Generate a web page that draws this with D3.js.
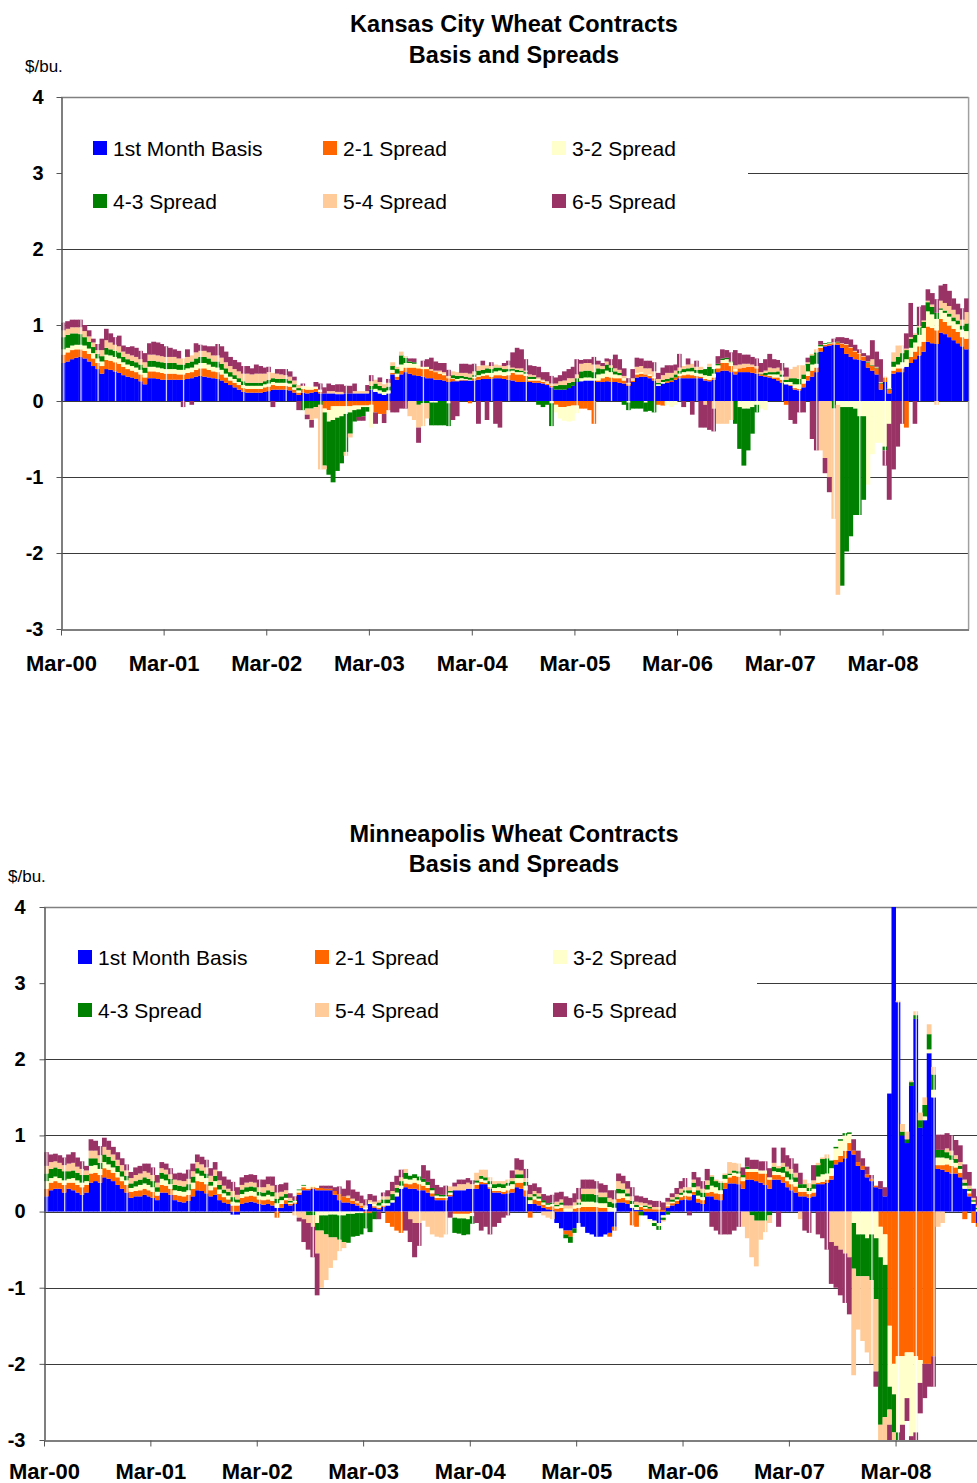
<!DOCTYPE html>
<html>
<head>
<meta charset="utf-8">
<script src="https://cdn.jsdelivr.net/npm/d3@7"></script>
<style>
body { margin: 0; background: #fff; }
svg { display: block; font-family: "Liberation Sans", Arial, sans-serif; }
</style>
</head>
<body>
<svg id="chart" width="977" height="1483"></svg>
<script>
// half-monthly values, Mar-00 .. Dec-08 (24 per year, 20 in the last)
var kcBasis = [
 .50,.52,.55,.57,.58,.56,.52,.46,.42,.36,.42,.41,.39,.37,.34,.32,.31,.29,.26,.22,.30,.30,.29,.28,
 .28,.28,.28,.28,.28,.29,.30,.32,.33,.32,.31,.30,.29,.27,.24,.21,.18,.15,.12,.11,.11,.11,.11,.12,
 .13,.15,.15,.15,.15,.14,.11,.08,.11,.10,.11,.12,.10,.10,.10,.10,.09,.09,.10,.10,.10,.10,.10,.10,
 .15,.12,.10,.08,.10,.35,.28,.35,.38,.36,.34,.33,.32,.30,.30,.28,.28,.27,.25,.26,.26,.27,.27,.27,
 .27,.28,.29,.29,.29,.30,.30,.29,.28,.27,.25,.25,.25,.25,.24,.24,.23,.21,.18,.15,.15,.15,.17,.20,
 .25,.26,.27,.27,.27,.25,.25,.26,.25,.25,.24,.23,.20,.25,.31,.32,.32,.30,.27,.20,.23,.24,.25,.28,
 .30,.30,.30,.30,.30,.30,.27,.26,.28,.38,.40,.40,.38,.35,.38,.38,.38,.37,.36,.33,.32,.31,.29,.27,
 .24,.22,.20,.15,.14,.18,.27,.32,.38,.65,.72,.73,.74,.74,.70,.62,.58,.55,.54,.53,.44,.40,.35,.15,
 .25,.10,.36,.38,.38,.45,.50,.55,.60,.65,.78,.76,.75,.90,.88,.84,.80,.76,.72,.68];
var kcSpread21 = [
 .11,.12,.12,.11,.10,.10,.10,.10,.08,.10,.12,.12,.12,.12,.11,.10,.09,.09,.09,.09,.09,.09,.09,.09,
 .08,.08,.08,.07,.07,.08,.08,.09,.10,.11,.10,.09,.09,.08,.07,.06,.06,.06,.05,.05,.05,.05,.05,.06,
 .06,.06,.05,.05,.05,.05,.04,.03,.05,.05,.04,.04,.02,-.10,-.12,-.07,-.07,-.07,-.07,-.07,-.06,-.06,-.06,-.06,
 -.05,-.15,-.17,-.17,-.12,.02,.04,.05,.06,.08,.10,.10,.10,.12,.10,.10,.08,.07,.05,.03,.01,.01,.01,-.03,
 .03,.04,.04,.05,.03,.04,.04,.04,.06,.10,.10,.10,.08,.02,.03,.03,.02,.02,.02,-.05,-.08,-.08,-.07,-.06,
 -.06,-.10,-.10,-.12,-.30,.02,.05,.06,.06,.05,.06,.04,.02,.02,.04,.04,.03,.03,.03,-.05,-.06,.02,.02,.03,
 .03,.04,.05,.04,.03,.02,.02,.02,.03,.05,.10,.10,.08,.04,.05,.06,.07,.08,.07,.02,.02,.02,.02,.04,
 .04,-.05,.01,.02,.02,.05,.06,.08,.06,.05,.02,.02,.02,.03,.05,.12,.12,.10,.08,.05,.06,.06,.08,.08,
 .06,.05,.04,.05,.05,-.35,.08,.10,.12,.13,.20,.20,.18,.18,.16,.15,.15,.15,.12,.14];
var kcSpread32 = [
 .07,.06,.06,.06,.06,.07,.07,.07,.06,.06,.07,.07,.07,.07,.06,.06,.06,.06,.06,.06,.06,.06,.06,.06,
 .06,.06,.06,.06,.06,.06,.06,.07,.07,.07,.07,.06,.06,.06,.05,.05,.05,.04,.04,.04,.04,.04,.04,.04,
 .04,.04,.04,.04,.04,.04,.03,.03,.04,.04,.03,.03,.03,-.05,-.15,-.18,-.15,-.13,-.10,-.08,-.06,-.05,-.02,-.02,
 -.30,.04,.04,.04,.04,.04,.04,.08,.06,.06,.05,.04,.03,.03,-.02,-.02,.02,.02,-.03,.01,.02,.02,.01,.01,
 .02,.02,.03,.03,.05,.05,.06,.05,.05,.03,.03,.03,.03,.02,.02,.02,.01,.01,-.03,-.10,-.15,-.18,-.20,-.20,
 -.10,.04,.04,.04,.03,.08,.06,.08,.07,.05,.04,.03,-.02,.01,.02,.02,-.02,.02,.02,.02,.02,-.05,-.08,-.05,
 .03,.04,.04,.05,.04,.04,.05,.05,.05,.04,.04,.05,.05,.03,-.08,-.10,-.10,-.08,-.05,-.10,-.12,.02,.04,.04,
 .04,.03,.04,.05,.06,.06,.06,.08,.05,.02,.01,.01,.01,-.05,-.08,-.08,-.08,-.10,-.20,-.20,-1.10,-.70,-.55,-.55,
 -.60,-.30,.05,.05,.08,.10,.12,.12,.15,.18,.20,.18,.15,.12,.12,.12,.10,.10,.10,.10];
var kcSpread43 = [
 .16,.17,.16,.15,.14,.11,.09,.08,.06,.07,.09,.08,.08,.08,.07,.07,.07,.07,.07,.07,.08,.08,.08,.08,
 .08,.08,.08,.07,.07,.07,.08,.08,.08,.08,.08,.07,.08,.08,.07,.06,.05,.05,.05,.04,.04,.04,.04,.04,
 .05,.05,.05,.05,.05,.04,.04,.03,-.12,-.10,-.10,-.08,-.05,-.70,-.70,-.82,-.70,-.62,-.50,-.28,-.15,-.10,-.12,-.06,
 .05,.07,.06,.05,.05,.05,.06,.12,.07,.02,.02,-.05,-.03,-.03,-.30,-.30,-.32,-.32,-.30,.04,.04,.03,.03,.03,
 .02,.06,.05,.06,.05,.05,.04,.04,.03,.02,.03,.02,.02,.03,.03,-.05,-.08,-.05,-.30,.05,.06,.06,.07,.05,
 .05,.09,.09,.09,.08,.08,.06,.08,.06,.04,.03,-.05,-.10,-.10,-.10,-.10,-.12,-.13,-.15,.02,.03,.03,.04,.04,
 .04,.04,.04,.05,.04,.05,.08,.12,.06,.02,.02,.02,.01,-.30,-.55,-.75,-.55,-.35,-.10,.01,.03,.03,.03,.04,
 .03,.03,.05,.08,.07,.06,.10,.12,.15,.02,.01,.01,-.10,.01,-2.35,-1.90,-1.70,-1.40,-1.30,-1.10,.01,.01,.01,.01,
 -.05,.01,.07,.10,.12,.12,.12,.10,.10,.08,.12,.10,.08,.02,.03,.04,.05,.05,.05,.10];
var kcSpread54 = [
 .09,.08,.08,.08,.09,.08,.07,.06,.05,.08,.10,.09,.08,.08,.07,.07,.07,.07,.07,.07,.08,.08,.08,.08,
 .08,.08,.08,.08,.08,.08,.08,.08,.08,.08,.08,.08,.08,.08,.08,.08,.08,.09,.10,.12,.11,.12,.12,.10,
 .10,.07,.07,.06,.05,.05,.05,.04,.00,-.08,-.15,-.15,-.85,-.05,.03,.03,.03,.03,-.05,-.05,.03,.03,.03,.03,
 .06,.05,.05,.05,.05,.05,.03,.05,.02,-.20,-.25,-.30,-.30,-.20,.02,.02,.02,.02,.03,.05,.05,.04,.05,.05,
 .05,.06,.06,.04,.04,.04,.03,.04,.05,.02,.02,.03,.02,.03,.02,.02,.02,.02,.03,.03,.05,.06,.06,.05,
 .05,.10,.10,.10,.10,.05,.04,.04,.03,.04,.04,.03,.02,.02,.08,.08,.08,.08,.07,.05,.06,.08,.06,.05,
 .04,.04,.05,.05,.04,.04,-.05,.04,-.10,-.30,-.30,-.30,-.25,.05,.05,.05,.04,.03,.03,.02,.03,.06,.05,.05,
 .05,.04,.12,.15,.18,.12,.02,.02,.04,-.65,-.75,-1.00,-1.45,-2.50,.01,.01,.01,.01,.01,.01,.01,.08,.01,.01,
 .01,.01,.12,.15,.10,.02,.02,.02,.02,.02,.02,.03,-.05,.10,.10,.10,.10,.08,.08,.15];
var kcSpread65 = [
 .10,.10,.10,.10,.10,.08,.08,.05,.08,.15,.15,.12,.10,.14,.08,.09,.12,.12,.11,.12,.15,.17,.17,.16,
 .14,.12,.10,.10,-.08,.10,-.05,.12,.08,.07,.08,.12,.15,.15,.14,.12,.12,.12,.10,.10,.08,.12,.10,.08,
 .07,-.08,.06,.07,.08,.07,.05,-.12,.03,-.06,-.10,.06,.08,.08,.10,.08,.10,.10,.10,.10,.10,-.05,-.06,.08,
 .08,-.15,.06,-.12,.05,-.15,-.15,-.10,-.10,.04,.05,-.20,.08,.10,.15,.12,.10,.12,.08,-.25,-.20,.12,.12,.12,
 .10,-.30,.06,-.25,.05,-.30,-.35,.04,.06,.20,.27,.25,.15,.12,.12,.14,.10,.12,.10,.08,.08,.12,.12,.15,
 .20,.05,.05,.05,.10,.05,.04,.04,.08,.18,.14,.10,.06,.12,.12,.10,.10,.10,.12,.08,.10,.10,.10,.08,
 .18,-.08,.08,-.18,.08,-.35,-.30,-.38,-.30,.10,.12,.10,.12,.20,.15,.12,.12,.10,.10,.12,.15,.18,.12,.10,
 .10,.12,-.25,-.30,-.15,-.15,.06,-.50,-.65,.05,-.20,-.20,.05,.06,.08,.08,.10,.08,.05,.04,.08,.25,.20,.30,
 -.20,-1.00,-.90,-.60,-.30,.20,.45,-.30,.25,.20,.15,.15,.18,.20,.25,.20,.15,.14,.15,.18];

var mpBasis = [
 .20,.28,.30,.30,.25,.30,.28,.25,.22,.25,.38,.40,.38,.45,.43,.40,.35,.30,.25,.18,.20,.20,.22,.20,
 .18,.15,.25,.25,.22,.15,.13,.12,.14,.20,.28,.27,.24,.20,.22,.15,.12,.10,-.04,-.04,.10,.12,.13,.12,
 .10,.09,.10,.08,.05,.05,.10,.08,.10,.22,.28,.28,.30,.28,.28,.28,.28,.22,.15,.12,.12,.10,.08,.05,
 .03,.10,.05,.03,.06,.08,.12,.20,.30,.32,.30,.30,.28,.28,.25,.20,.15,.15,.15,.20,.28,.28,.28,.30,
 .30,.30,.36,.36,.30,.25,.25,.23,.24,.25,.32,.30,.20,.10,.10,.08,.05,.03,.02,-.15,-.22,-.25,-.25,-.22,
 -.15,-.20,-.28,-.30,-.33,-.33,-.30,-.28,-.20,.12,.12,.10,.05,.02,.02,-.05,-.10,-.12,-.15,-.05,.05,.08,.10,.15,
 .16,.15,.22,.12,.10,.20,.20,.16,.15,.30,.37,.37,.36,.30,.42,.42,.40,.38,.35,.30,.42,.42,.38,.32,
 .28,.25,.20,.20,.18,.20,.36,.36,.38,.42,.62,.65,.70,.80,.75,.60,.55,.45,.40,.32,.30,.20,1.55,4.05,
 2.75,1.00,.90,1.65,2.53,1.10,1.20,2.08,1.50,.56,.55,.52,.50,.50,.45,.30,.20,.10,-.15,-.20];
var mpSpread21 = [
 .10,.10,.10,.08,.10,.08,.10,.10,.10,.10,.12,.11,.10,.12,.12,.11,.10,.10,.10,.08,.07,.08,.08,.08,
 .08,.06,.10,.09,.08,.07,.08,.08,.08,.10,.12,.12,.12,.08,.10,.08,.07,.06,.08,.08,.08,.08,.08,.08,
 .06,.06,.06,.06,-.08,.05,.05,.02,.02,.03,.04,.02,.02,.03,.03,.02,.02,.05,.08,.08,.06,.04,.03,.03,
 -.02,-.02,.02,.02,.02,-.15,-.20,-.25,-.28,.05,.06,.08,.08,.06,.06,.04,.03,.03,.03,.02,-.03,-.03,-.03,-.03,
 -.02,.05,.03,.02,.02,.02,.02,.03,.04,.05,.06,.08,.08,-.08,.06,.06,.04,.03,.05,.04,.05,-.05,-.08,.04,
 .05,.06,.06,.06,.06,.05,.05,-.05,-.05,.05,.06,.05,-.18,-.20,.04,.04,.04,.03,.03,.02,.02,.03,.04,.04,
 .05,.05,.04,.05,.05,.05,.06,.08,.08,.08,.08,.10,.10,.10,.10,.10,.12,.12,.15,.12,.06,.06,.08,.08,
 .08,.08,.06,.06,.05,.05,.02,.03,.04,.05,.06,.08,.10,.10,.05,.05,.05,.04,.03,.02,-.20,-.30,-1.50,-2.00,
 -1.90,-1.90,-1.85,-1.85,-1.90,-1.95,-2.00,-2.00,-1.90,.05,.06,.10,.10,.08,.06,-.10,.04,-.15,-.05,.02];
var mpSpread32 = [
 .10,.06,.06,.06,.06,.05,.06,.06,.06,.05,.10,.10,.08,.08,.07,.07,.07,.06,.06,.05,.06,.07,.07,.07,
 .06,.05,.08,.07,.06,.06,.06,.06,.06,.08,.10,.08,.08,.06,.08,.06,.05,.05,.05,.04,.05,.06,.06,.06,
 .05,.05,.06,.06,.06,.05,.03,.02,.02,.03,.02,.02,.02,-.15,-.05,-.05,-.04,-.04,-.05,-.05,-.03,-.03,-.02,-.02,
 .02,.02,.03,.03,.03,.03,.03,.05,.04,.06,.06,.06,.05,.05,.04,.04,.03,.02,.02,.03,-.05,-.06,-.06,-.07,
 -.04,.03,.04,.03,.04,.04,.05,.05,.06,.06,.06,.06,.06,.05,.04,.03,.03,.03,.03,.03,.04,.04,.04,.04,
 .04,.07,.07,.07,.06,.06,.06,.06,.05,.07,.06,.05,.05,.04,.02,.02,-.03,-.03,-.04,-.03,.02,.02,.02,.03,
 .04,.04,.06,.04,.04,.04,.08,.08,.05,.05,.03,.04,.04,.05,.04,.04,.04,.04,.04,.03,.05,.04,.05,.05,
 .06,.06,.05,.05,.04,.05,.08,.10,.08,.10,.15,.20,.20,.12,-.15,-.30,-.30,-.35,-.30,-.35,-.40,-.40,-.80,-.40,
 -1.00,-.90,-.60,-1.10,-1.00,-.30,.05,.05,.10,.10,.10,.08,.08,.06,.05,.04,.03,.03,.03,.02];
var mpSpread43 = [
 .10,.12,.12,.12,.12,.10,.10,.10,.10,.08,.10,.09,.08,.10,.10,.09,.08,.07,.06,.06,.07,.07,.08,.08,
 .08,.06,.08,.08,.07,.07,.07,.07,.08,.08,.07,.07,.06,.05,.07,.06,.05,.05,.06,.04,.06,.06,.06,.06,
 .05,.05,.06,.06,.06,.05,.05,.02,.01,.01,.01,-.05,-.05,-.10,-.20,-.25,-.30,-.30,-.32,-.35,-.38,-.30,-.30,-.28,
 -.20,-.25,-.10,.04,.05,.05,.08,.06,.06,.08,.05,.05,.05,.04,.04,.03,.02,.02,.02,.02,-.20,-.20,-.22,-.20,
 -.10,.03,.04,.04,.04,.05,.05,.05,.04,.04,.05,.05,.05,.04,.03,.03,.03,.02,.02,.02,.03,-.05,-.08,-.06,
 .03,.10,.10,.10,.10,.08,.08,.07,.06,.06,.05,.04,.04,.03,-.05,.02,.02,-.04,-.05,-.03,-.04,.03,.03,.03,
 .03,.04,.06,.07,.06,.06,.12,.08,.10,.05,.02,.03,.03,.03,.03,-.05,-.12,-.12,-.12,-.05,.06,.05,.08,.08,
 .08,.06,.05,.05,.04,.06,.15,.20,.20,.10,.02,.02,.03,.02,-.60,-.55,-.55,-.50,-.60,-.80,-2.20,-2.00,-.30,-.50,
 -.10,.05,.05,.05,.05,.10,.15,.20,.20,.10,.10,.08,.06,.05,.04,.04,.03,.02,.02,.02];
var mpSpread54 = [
 .10,.09,.08,.08,.08,.10,.10,.08,.08,.06,.10,.10,.10,.10,.09,.08,.08,.08,.07,.07,.08,.08,.08,.08,
 .08,.06,.06,.06,.06,.07,.07,.07,.07,.07,.08,.08,.08,.08,.08,.06,.05,.04,.08,.06,.06,.06,.06,.06,
 .06,.07,.08,.08,.08,.06,.05,.04,-.05,-.08,-.10,-.10,-.15,-.30,-.75,-.60,-.40,-.30,-.15,-.08,.03,.03,.03,.03,
 .03,.03,.03,.03,.04,.04,.04,.04,.05,.05,-.10,-.15,-.15,-.12,-.20,-.30,-.33,-.34,-.30,.06,.05,.08,.08,.08,
 .06,.10,.08,.10,.05,.04,.03,.04,.04,.04,.06,.05,.05,.04,.04,.04,-.05,-.08,-.10,.04,.04,.04,.04,.04,
 .04,.07,.07,.07,.08,.06,.06,.05,.05,.10,.08,.06,.06,.04,.04,.03,.03,.03,.03,-.02,.04,.03,.04,.05,
 .04,.04,.04,.05,.05,.06,.02,.02,.02,.02,.15,.10,.10,-.20,-.35,-.55,-.60,-.25,-.15,-.10,.05,.03,.05,.06,
 .06,.06,-.10,.06,.06,.05,.03,.02,.05,-.40,-.45,-.50,-.55,-.60,-1.40,-.70,-.85,-1.00,-1.10,-.95,-.20,-.30,-.20,-.10,
 .02,.10,.10,.02,.05,.10,.10,.13,.10,-.20,-.15,.05,.06,.05,.05,.04,.04,.03,.03,.03];
var mpSpread65 = [
 .18,.10,.10,.10,.10,.12,.14,.12,.10,.06,.15,.13,.12,.12,.12,.10,.10,.09,.08,.08,.10,.10,.10,.12,
 .10,.10,.08,.08,.08,.08,.10,.10,.12,.10,.10,.10,.10,.10,.10,.12,.12,.12,.12,.10,.10,.10,.10,.10,
 .10,.10,.10,.12,.10,.10,.10,.06,.05,-.05,-.30,-.35,-.40,-.55,.03,.04,.04,.05,.10,.10,.20,.12,.12,.10,
 .08,.08,.08,-.10,.05,.08,.12,.12,.10,-.25,-.30,-.45,-.30,.18,.15,.12,.12,.10,.12,-.08,.05,.06,.06,.06,
 .05,-.15,-.25,-.20,-.30,-.20,-.15,-.08,-.05,.10,.15,.14,.12,.12,.10,.08,.08,.10,.10,.12,.10,.12,.10,.12,
 .15,.12,.12,.12,.10,.12,.10,.10,.12,.10,.10,.10,.12,.08,.08,.07,.06,.08,.08,.10,.05,.05,.08,.10,
 .12,-.05,.10,.12,.10,.15,-.20,-.25,-.30,-.30,-.30,-.25,-.20,.10,.12,.12,.12,.12,.12,.12,.20,-.20,.20,.15,
 .14,.12,.15,-.25,-.28,.20,-.30,-.35,-.50,-.55,-.55,-.60,-.65,-.75,.15,.15,.10,.10,.05,-.20,.10,.12,-.30,.01,
 -.10,-.20,-.30,-.10,-.10,-.40,-.45,-.30,-.40,.20,.20,.20,.20,.20,.22,.20,.18,.12,.12,.10];

var seriesKeys = ["basis", "s21", "s32", "s43", "s54", "s65"];
var seriesNames = ["1st Month Basis", "2-1 Spread", "3-2 Spread", "4-3 Spread", "5-4 Spread", "6-5 Spread"];
var seriesColors = ["#0000FF", "#FF6600", "#FFFFCC", "#008000", "#FFCC99", "#993366"];
var yTicks = [-3, -2, -1, 0, 1, 2, 3, 4];
var xTickLabels = ["Mar-00", "Mar-01", "Mar-02", "Mar-03", "Mar-04", "Mar-05", "Mar-06", "Mar-07", "Mar-08"];
var contractMonths = [2, 4, 6, 8, 11]; // Mar, May, Jul, Sep, Dec roll dates

var charts = [
  { title: ["Kansas City Wheat Contracts", "Basis and Spreads"], titleY: [32, 63],
    unitX: 25, unitY: 72, left: 61, right: 968.6, top: 97, bottom: 629,
    yLabelPad: 13, xLabelPad: 20,
    legend: { x: 62, y: 112, w: 686, h: 122, cols: [93, 323, 552], rows: [148, 201] },
    data: [kcBasis, kcSpread21, kcSpread32, kcSpread43, kcSpread54, kcSpread65] },
  { title: ["Minneapolis Wheat Contracts", "Basis and Spreads"], titleY: [842, 872],
    unitX: 8, unitY: 882, left: 44, right: 984.75, top: 907, bottom: 1440,
    yLabelPad: 14, xLabelPad: 17,
    legend: { x: 45, y: 922, w: 712, h: 122, cols: [78, 315, 553], rows: [957, 1010] },
    data: [mpBasis, mpSpread21, mpSpread32, mpSpread43, mpSpread54, mpSpread65] }
];

function halfMonth(i) {
  return new Date(2000, 2 + Math.floor(i / 2), i % 2 ? 16 : 1);
}

var svg = d3.select("#chart");
var parseTick = d3.timeParse("%b-%y");

charts.forEach(function(c, ci) {
  var g = svg.append("g");
  var x = d3.scaleTime()
      .domain([new Date(2000, 2, 1), new Date(2009, 0, 1)])
      .range([c.left, c.right]);
  var y = d3.scaleLinear().domain([-3, 4]).range([c.bottom, c.top]);

  var n = d3.min(c.data, function(a) { return a.length; });
  var rows = d3.range(n).map(function(i) {
    var r = { i: i, date: halfMonth(i), next: halfMonth(i + 1) };
    seriesKeys.forEach(function(k, j) { r[k] = c.data[j][i]; });
    return r;
  });

  var layers = d3.stack()
      .keys(seriesKeys)
      .offset(d3.stackOffsetDiverging)(rows);

  // gridlines
  g.selectAll(".grid")
    .data(yTicks.filter(function(v) { return v > -3 && v < 4; }))
    .enter().append("line")
    .attr("x1", c.left).attr("x2", c.right)
    .attr("y1", function(d) { return Math.round(y(d)) + 0.5; })
    .attr("y2", function(d) { return Math.round(y(d)) + 0.5; })
    .attr("stroke", "#3a3a3a").attr("stroke-width", 1);

  g.append("line")
    .attr("x1", c.left).attr("x2", c.right)
    .attr("y1", y(4) + 0.5).attr("y2", y(4) + 0.5)
    .attr("stroke", "#808080").attr("stroke-width", 1.5);
  g.append("line")
    .attr("x1", c.right).attr("x2", c.right)
    .attr("y1", c.top).attr("y2", c.bottom)
    .attr("stroke", "#a0a0a0").attr("stroke-width", 1.5);

  var clipId = "clip" + ci;
  svg.append("clipPath").attr("id", clipId)
    .append("rect")
    .attr("x", c.left).attr("y", c.top)
    .attr("width", c.right - c.left).attr("height", c.bottom - c.top);

  var plot = g.append("g").attr("clip-path", "url(#" + clipId + ")");

  var layer = plot.selectAll(".layer")
    .data(layers)
    .enter().append("g")
    .attr("class", "layer")
    .attr("fill", function(d, i) { return seriesColors[i]; });

  layer.selectAll("rect")
    .data(function(d) { return d; })
    .enter().append("rect")
    .attr("x", function(d) { return x(d.data.date); })
    .attr("width", function(d) { return x(d.data.next) - x(d.data.date) + 0.4; })
    .attr("y", function(d) { return y(Math.max(d[0], d[1])); })
    .attr("height", function(d) { return Math.abs(y(d[0]) - y(d[1])); });

  // thin white breaks at contract roll dates
  var rolls = [];
  d3.range(2000, 2009).forEach(function(yr) {
    contractMonths.forEach(function(m) {
      var idx = (yr - 2000) * 24 + (m - 2) * 2;
      if (idx >= 0 && idx < n) rolls.push({ idx: idx, date: new Date(yr, m, 11) });
    });
  });
  plot.selectAll(".roll")
    .data(rolls)
    .enter().append("line")
    .attr("x1", function(d) { return x(d.date); })
    .attr("x2", function(d) { return x(d.date); })
    .attr("y1", function(d) {
      var hi = d3.max(layers, function(l) { return Math.max(l[d.idx][0], l[d.idx][1]); });
      return y(Math.max(0, hi));
    })
    .attr("y2", function(d) {
      var lo = d3.min(layers, function(l) { return Math.min(l[d.idx][0], l[d.idx][1]); });
      return y(Math.min(0, lo));
    })
    .attr("stroke", "#fff").attr("stroke-opacity", 0.8).attr("stroke-width", 1.3);

  // legend
  var lg = g.append("g");
  lg.append("rect")
    .attr("x", c.legend.x).attr("y", c.legend.y)
    .attr("width", c.legend.w).attr("height", c.legend.h)
    .attr("fill", "#fff");
  var item = lg.selectAll(".item")
    .data(seriesNames)
    .enter().append("g")
    .attr("transform", function(d, i) {
      return "translate(" + c.legend.cols[i % 3] + "," + c.legend.rows[Math.floor(i / 3)] + ")";
    });
  item.append("rect")
    .attr("x", 0).attr("y", -7).attr("width", 14).attr("height", 14)
    .attr("fill", function(d, i) { return seriesColors[i]; });
  item.append("text")
    .attr("x", 20).attr("y", 7.5)
    .attr("font-size", 21).attr("fill", "#000")
    .text(function(d) { return d; });

  // axes
  var yAxis = d3.axisLeft(y).tickValues(yTicks).tickSize(5).tickSizeOuter(0)
      .tickPadding(c.yLabelPad).tickFormat(function(d) { return String(d); });
  var ya = g.append("g").attr("transform", "translate(" + (c.left + 0.5) + ",0)").call(yAxis);
  ya.select(".domain").attr("stroke", "#555").attr("stroke-width", 1.5);
  ya.selectAll(".tick line").attr("stroke", "#555");
  ya.selectAll("text").attr("font-size", 20).attr("font-weight", "bold")
    .attr("font-family", "Liberation Sans, Arial, sans-serif").attr("fill", "#000");

  var xAxis = d3.axisBottom(x)
      .tickValues(xTickLabels.map(function(s) { return parseTick(s); }))
      .tickSize(6).tickSizeOuter(0).tickPadding(c.xLabelPad)
      .tickFormat(d3.timeFormat("%b-%y"));
  var xa = g.append("g").attr("transform", "translate(0," + (c.bottom + 0.5) + ")").call(xAxis);
  xa.select(".domain").attr("stroke", "#555").attr("stroke-width", 1.5);
  xa.selectAll(".tick line").attr("stroke", "#555");
  xa.selectAll("text").attr("font-size", 22).attr("font-weight", "bold")
    .attr("font-family", "Liberation Sans, Arial, sans-serif").attr("fill", "#000");

  // titles
  g.selectAll(".title")
    .data(c.title)
    .enter().append("text")
    .attr("x", 514).attr("y", function(d, i) { return c.titleY[i]; })
    .attr("text-anchor", "middle")
    .attr("font-size", 23.5).attr("font-weight", "bold")
    .text(function(d) { return d; });

  g.append("text")
    .attr("x", c.unitX).attr("y", c.unitY)
    .attr("font-size", 17)
    .text("$/bu.");
});
</script>
</body>
</html>
